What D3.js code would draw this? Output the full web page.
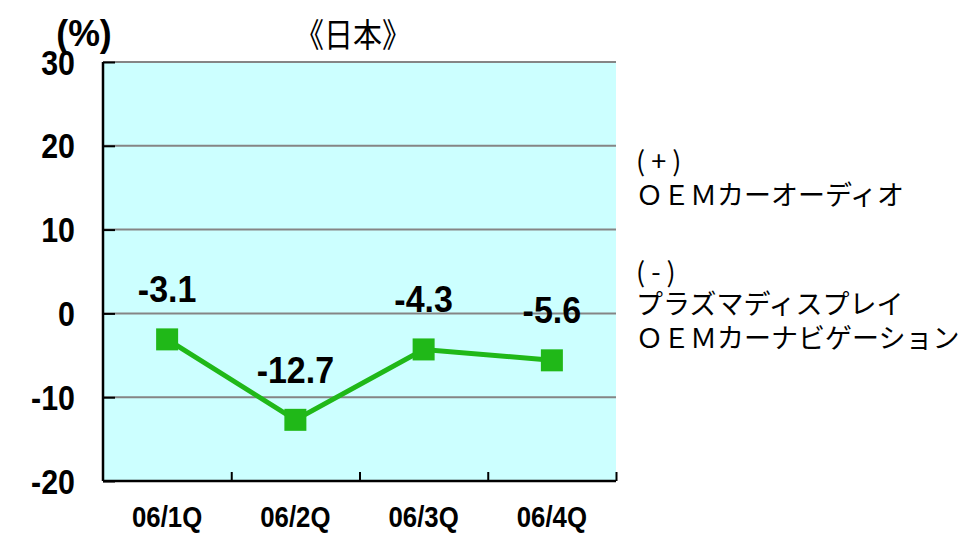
<!DOCTYPE html>
<html><head><meta charset="utf-8">
<script src="https://cdn.jsdelivr.net/npm/d3@7"></script>
<style>
html,body{margin:0;padding:0;background:#fff;}
svg{display:block;}
</style></head>
<body>
<svg id="c" width="962" height="534"></svg>
<script>
const categories = ["06/1Q","06/2Q","06/3Q","06/4Q"];
const values = [-3.1,-12.7,-4.3,-5.6];
const valueLabels = ["-3.1","-12.7","-4.3","-5.6"];
const yTicks = [30,20,10,0,-10,-20];
const title = "《日本》";
const unitLabel = "(%)";
const notes = ["( + )","ＯＥＭカーオーディオ","( - )","プラズマディスプレイ","ＯＥＭカーナビゲーション"];

const svg = d3.select("#c");
const L=103, R=616, T=62, B=481;
const x = d3.scaleBand().domain(categories).range([L,R]).padding(0);
const y = d3.scaleLinear().domain([-20,30]).range([B,T]);
const bold = "'Liberation Sans', Arial, sans-serif";
const cjk = "'Noto Sans CJK JP', sans-serif";

svg.append("rect").attr("x",L).attr("y",T).attr("width",R-L).attr("height",B-T).attr("fill","#ccffff");

// gridlines
svg.append("g").selectAll("line").data(yTicks.filter(d=>d>-20)).join("line")
  .attr("x1",L).attr("x2",R).attr("y1",d=>y(d)).attr("y2",d=>y(d))
  .attr("stroke","#858585").attr("stroke-width",2);

// left axis
const ya = svg.append("g").attr("transform",`translate(${L},0)`)
  .call(d3.axisRight(y).tickValues(yTicks).tickSize(12).tickFormat(""));
ya.select(".domain").attr("stroke","#000").attr("stroke-width",2.5).attr("d",`M0,${T}V${B}`);
ya.selectAll(".tick line").attr("stroke","#000").attr("stroke-width",2);

function place(sel, kx, ky){
  sel.each(function(){
    const t=d3.select(this);
    const tx=+t.attr("data-x"), ty=+t.attr("data-y");
    t.attr("transform",`translate(${tx},${ty}) scale(${kx},${ky})`);
  });
}
const yl = svg.append("g").selectAll("text").data(yTicks).join("text")
  .attr("data-x",75).attr("data-y",d=>y(d)+12.5)
  .attr("text-anchor","end").attr("font-family",bold).attr("font-weight","bold")
  .attr("font-size",33).text(d=>d);
place(yl,0.92,1.08);

// bottom axis
const xa = svg.append("g").attr("transform",`translate(0,${B})`)
  .call(d3.axisTop(d3.scaleLinear().domain([0,4]).range([L,R])).tickValues([1,2,3,4]).tickSize(9).tickFormat(""));
xa.select(".domain").attr("stroke","#000").attr("stroke-width",2.5).attr("d",`M${L},0H${R}`);
xa.selectAll(".tick line").attr("stroke","#000").attr("stroke-width",2);

const xl = svg.append("g").selectAll("text").data(categories).join("text")
  .attr("data-x",d=>x(d)+x.bandwidth()/2).attr("data-y",527)
  .attr("text-anchor","middle").attr("font-family",bold).attr("font-weight","bold")
  .attr("font-size",28).text(d=>d);
place(xl,0.92,1.08);

// line
const pts = categories.map((c,i)=>({c, v:values[i], lab:valueLabels[i]}));
const line = d3.line().x(d=>x(d.c)+x.bandwidth()/2).y(d=>y(d.v));
svg.append("path").datum(pts).attr("d",line).attr("fill","none")
  .attr("stroke","#20b818").attr("stroke-width",5).attr("stroke-linejoin","miter");
svg.append("g").selectAll("rect").data(pts).join("rect")
  .attr("x",d=>x(d.c)+x.bandwidth()/2-11).attr("y",d=>y(d.v)-11)
  .attr("width",22).attr("height",22).attr("fill","#20b818");

const dl = svg.append("g").selectAll("text").data(pts).join("text")
  .attr("data-x",d=>x(d.c)+x.bandwidth()/2).attr("data-y",d=>y(d.v)-37)
  .attr("text-anchor","middle").attr("font-family",bold).attr("font-weight","bold")
  .attr("font-size",34).attr("fill","#000").text(d=>d.lab);
place(dl,1.0,1.1);

// unit & title
const ul = svg.append("text").attr("data-x",84).attr("data-y",46).attr("text-anchor","middle")
  .attr("font-family",bold).attr("font-weight","bold").attr("font-size",34).text(unitLabel);
place(ul,1.05,1.1);
const tl = svg.append("text").attr("data-x",353).attr("data-y",47).attr("text-anchor","middle")
  .attr("font-family",cjk).attr("font-size",29).text(title);
place(tl,1.0,1.15);

// notes
const noteY = [171,205,282,314,348];
svg.append("g").selectAll("text").data(notes).join("text")
  .attr("x",636).attr("y",(d,i)=>noteY[i])
  .attr("font-family",cjk).attr("font-size",27).text(d=>d);
</script>
</body></html>
